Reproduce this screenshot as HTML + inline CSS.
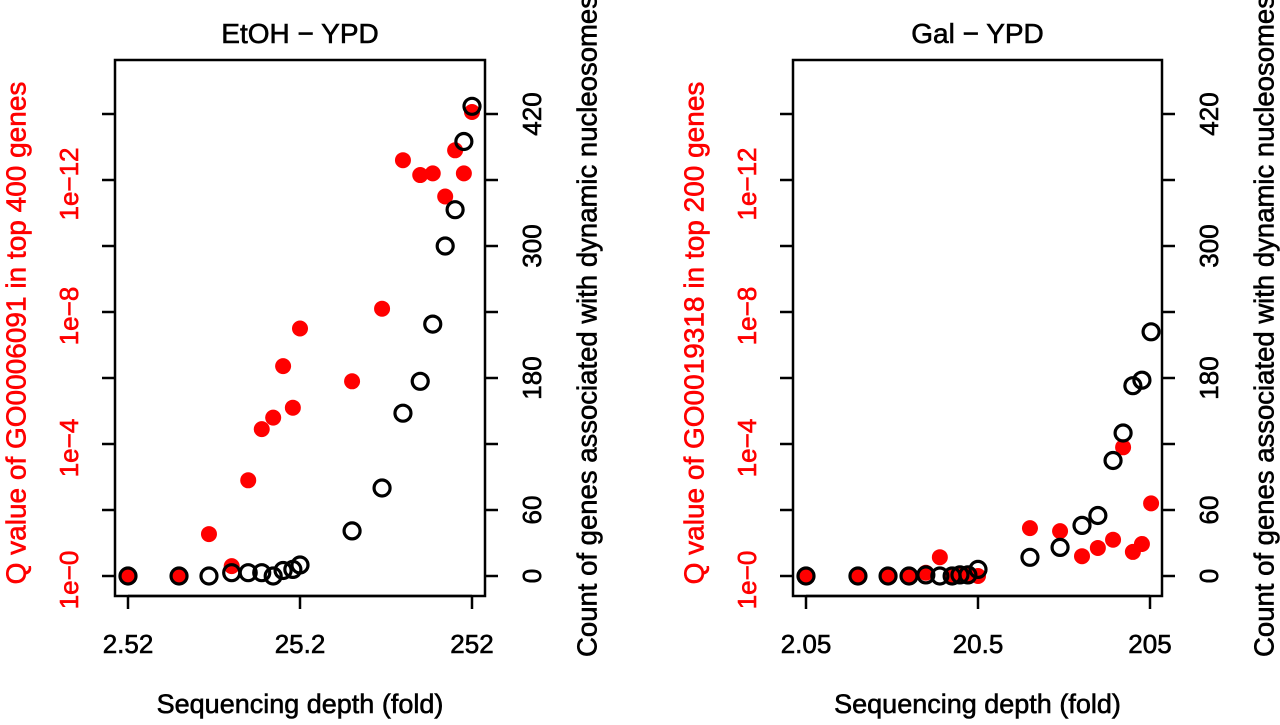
<!DOCTYPE html>
<html><head><meta charset="utf-8"><style>
body{margin:0;background:#fff;width:1280px;height:720px;overflow:hidden}
svg{font-family:"Liberation Sans",sans-serif}
text{stroke-width:0.6}
</style></head><body>
<svg id="chart" width="1280" height="720"></svg>
<script>
// Left panel data (EtOH - YPD)
const leftFold = [2.52,4.99,7.45,10.1,12.6,15.1,17.6,20.1,22.9,25.2,50.6,75.6,100,126,149,176,201,226,252];
const leftCount = [0,0,0,3,3,3,0,5,6,10,41,80,148,177,229,300,333,395,427];
const leftQExp = [0,0,1.27,0.3,2.9,4.45,4.8,6.36,5.1,7.5,5.9,8.1,12.6,12.15,12.2,11.5,12.9,12.2,14.06];
// Right panel data (Gal - YPD)
const rightFold = [2.05,4.11,6.15,8.14,10.2,12.3,14.5,16.1,17.9,20.5,41.1,61.5,82.5,102,125,143,163,184,208];
const rightCount = [0,0,0,0,1,0,0,1,1,6,17,26,46,55,105,130,173,178,222];
const rightQExp = [0,0,0,0,0.1,0.57,0,0,0,0,1.45,1.36,0.6,0.85,1.1,3.9,0.73,0.97,2.2];
const countTicks = [0,60,120,180,240,300,360,420];
const countLabels = ["0","60","","180","","300","","420"];
const qTicks = [0,2,4,6,8,10,12,14];
const qLabels = ["1e\u22120","","1e\u22124","","1e\u22128","","1e\u221212",""];

const svg = document.getElementById('chart');
const NS = 'http://www.w3.org/2000/svg';
function mk(tag, attrs, parent){const e=document.createElementNS(NS,tag);for(const k in attrs)e.setAttribute(k,attrs[k]);(parent||svg).appendChild(e);return e;}

function panel(p){
  const g = mk('g',{});
  
  
  const L=p.left,R=p.right,T=60,B=596;
  const xs = v => p.x0 + 172*Math.log10(v/p.xmin);
  const yc = c => 576 - c*1.1;
  const yq = e => 576 - e*33;
  const box = mk('rect',{x:L,y:T,width:R-L,height:B-T,fill:'none',stroke:'#000','stroke-width':2.5},g);
  
  
  const t = mk('text',{x:(L+R)/2,y:43,'text-anchor':'middle','font-size':28,stroke:'#000'},g);
  t.textContent=p.title;
  
  
  p.xt.forEach((v,i)=>{
    const x=xs(v);
    mk('line',{x1:x,x2:x,y1:B,y2:B+13,stroke:'#000','stroke-width':2.5},g);
    const l=mk('text',{x:x,y:653,'text-anchor':'middle','font-size':26,stroke:'#000'},g);
    l.textContent=p.xl[i];
    
    
  });
  mk('line',{x1:xs(p.xt[0]),x2:xs(p.xt[2]),y1:B,y2:B,stroke:'#000','stroke-width':2.5},g);
  const xt=mk('text',{x:(L+R)/2,y:713,'text-anchor':'middle','font-size':27,stroke:'#000'},g);
  xt.textContent='Sequencing depth (fold)';
  
  
  qTicks.forEach((q,i)=>{
    const y=yq(q);
    mk('line',{x1:L-13,x2:L,y1:y,y2:y,stroke:'#000','stroke-width':2.5},g);
    if(qLabels[i]){
      const l=mk('text',{x:0,y:0,'text-anchor':'middle','dominant-baseline':'central','font-size':26,fill:'#f00',stroke:'#f00',transform:`translate(${L-46},${y+4}) rotate(-90)`},g);
      l.textContent=qLabels[i];
      
      
    }
  });
  const ly=mk('text',{x:0,y:0,'text-anchor':'middle','dominant-baseline':'central','font-size':28,fill:'#f00',stroke:'#f00',transform:`translate(${L-99},${(T+B)/2+5}) rotate(-90)`},g);
  ly.textContent=p.ylab;
  
  
  countTicks.forEach((c,i)=>{
    const y=yc(c);
    mk('line',{x1:R,x2:R+13,y1:y,y2:y,stroke:'#000','stroke-width':2.5},g);
    if(countLabels[i]){
      const l=mk('text',{x:0,y:0,'text-anchor':'middle','dominant-baseline':'central','font-size':26,stroke:'#000',transform:`translate(${R+47},${y}) rotate(-90)`},g);
      l.textContent=countLabels[i];
      
      
    }
  });
  const ry=mk('text',{x:0,y:0,'text-anchor':'middle','dominant-baseline':'central','font-size':27.5,stroke:'#000',transform:`translate(${R+102},${(T+B)/2-2}) rotate(-90)`},g);
  ry.textContent='Count of genes associated with dynamic nucleosomes';
  
  
  p.fold.forEach((f,i)=>{
    const c=mk('circle',{cx:xs(f),cy:yq(p.q[i]),r:8,fill:'#f00'},g);
    
    
  });
  p.fold.forEach((f,i)=>{
    const c=mk('circle',{cx:xs(f),cy:yc(p.count[i]),r:8,fill:'none',stroke:'#000','stroke-width':3.2},g);
    
    
  });
}
panel({name:'etoh-panel',left:115,right:485,x0:128,xmin:2.52,xt:[2.52,25.2,252],xl:['2.52','25.2','252'],
  title:'EtOH \u2212 YPD',ylab:'Q value of GO0006091 in top 400 genes',fold:leftFold,count:leftCount,q:leftQExp});
panel({name:'gal-panel',left:793,right:1162,x0:806,xmin:2.05,xt:[2.05,20.5,205],xl:['2.05','20.5','205'],
  title:'Gal \u2212 YPD',ylab:'Q value of GO0019318 in top 200 genes',fold:rightFold,count:rightCount,q:rightQExp});
</script>
</body></html>
